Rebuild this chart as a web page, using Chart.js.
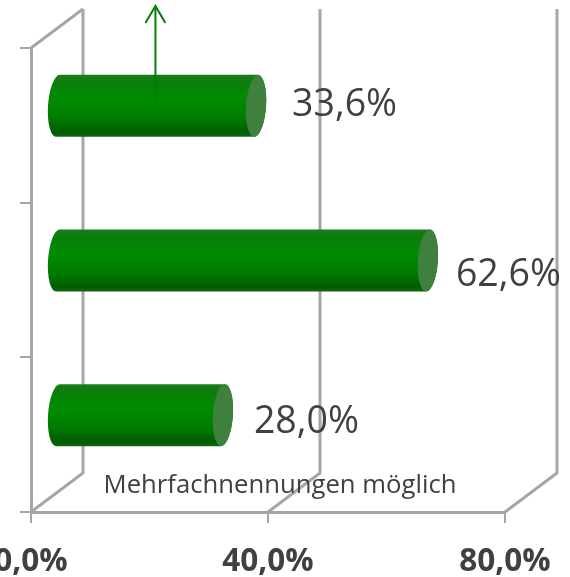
<!DOCTYPE html>
<html><head><meta charset="utf-8">
<script src="https://cdn.jsdelivr.net/npm/chart.js@4"></script>
<style>html,body{margin:0;padding:0;background:#fff;overflow:hidden}canvas{display:block}</style>
</head><body><canvas id="c" width="570" height="577"></canvas>
<script>
const categories = ['Kategorie 1', 'Kategorie 2', 'Kategorie 3'];
const values = [33.6, 62.6, 28.0];
const axisMin = 0, axisMax = 80, axisStep = 40;
const noteText = 'Mehrfachnennungen möglich';
const labelShiftX = [62, 54, 57];
const labelShiftY = [-20, -5, -12];
const fmt = v => v.toFixed(1).replace('.', ',') + '%';

const GRAY = '#a6a6a6', TEXT = '#404040', FONT = '"Open Sans"';
const DX = 26, DY = -19.5, SKEW = -0.06, RX = 10;

function line(ctx, pts) {
  ctx.beginPath();
  pts.forEach((p, i) => i ? ctx.lineTo(p[0], p[1]) : ctx.moveTo(p[0], p[1]));
  ctx.stroke();
}

const plugin3d = {
  id: 'plugin3d',
  beforeDatasetsDraw(chart) {
    const { ctx, chartArea: a, scales: { x } } = chart;
    ctx.save();
    ctx.strokeStyle = GRAY; ctx.lineWidth = 3; ctx.lineJoin = 'round';
    x.ticks.forEach(t => {
      const px = x.getPixelForValue(t.value);
      line(ctx, [[px, a.bottom], [px + DX * 2, a.bottom + DY * 2], [px + DX * 2, a.top + DY * 2]]);
    });
    line(ctx, [[a.left, a.top], [a.left + DX * 2, a.top + DY * 2]]);
    ctx.restore();

    const meta = chart.getDatasetMeta(0);
    meta.data.forEach(el => {
      const { x: ex, y: ey, base, height } = el.getProps(['x', 'y', 'base', 'height'], true);
      const cy = ey + DY, h = height / 2;
      const x0 = base + DX, x1 = ex + DX;
      ctx.save();
      ctx.translate(0, cy);
      ctx.transform(1, 0, SKEW, 1, 0, 0);
      const g = ctx.createLinearGradient(0, -h, 0, h);
      g.addColorStop(0, '#1c7a1c');
      g.addColorStop(0.12, '#0a7d0a');
      g.addColorStop(0.38, '#008c00');
      g.addColorStop(0.7, '#007c00');
      g.addColorStop(0.92, '#005c00');
      g.addColorStop(1, '#0f660f');
      ctx.beginPath();
      ctx.ellipse(x0, 0, RX, h, 0, Math.PI / 2, Math.PI * 1.5);
      ctx.lineTo(x1, -h);
      ctx.ellipse(x1, 0, RX, h, 0, -Math.PI / 2, Math.PI / 2);
      ctx.closePath();
      ctx.fillStyle = g;
      ctx.fill();
      ctx.beginPath();
      ctx.ellipse(x1, 0, RX, h, 0, 0, Math.PI * 2);
      ctx.fillStyle = '#3f803f';
      ctx.fill();
      ctx.restore();
    });
    return false;
  },
  afterDraw(chart) {
    const { ctx, chartArea: a } = chart;
    const meta = chart.getDatasetMeta(0);
    ctx.save();
    ctx.fillStyle = TEXT;
    ctx.textBaseline = 'middle';
    ctx.textAlign = 'left';
    ctx.font = '37.5px ' + FONT;
    meta.data.forEach((el, i) => {
      const { x: ex, y: ey } = el.getProps(['x', 'y'], true);
      ctx.fillText(fmt(values[i]), ex + labelShiftX[i], ey + labelShiftY[i]);
    });
    ctx.font = '25.7px ' + FONT;
    ctx.textBaseline = 'alphabetic';
    ctx.textAlign = 'center';
    ctx.fillText(noteText, (a.left + a.right) / 2 + 12, a.bottom - 19);

    const ax = chart.scales.x.getPixelForValue(21), top = a.top - 42;
    ctx.strokeStyle = '#008000'; ctx.lineWidth = 2; ctx.lineJoin = 'miter';
    line(ctx, [[ax, top + 94], [ax, top]]);
    line(ctx, [[ax - 10, top + 17], [ax, top], [ax + 10, top + 17]]);
    ctx.restore();
  }
};

new Chart(document.getElementById('c'), {
  type: 'bar',
  data: { labels: categories, datasets: [{ data: values, backgroundColor: '#008000', barThickness: 62 }] },
  plugins: [plugin3d],
  options: {
    indexAxis: 'y',
    responsive: false,
    animation: false,
    layout: { padding: { left: 20, right: 65, top: 48, bottom: 0 } },
    plugins: { legend: { display: false }, tooltip: { enabled: false }, title: { display: false } },
    scales: {
      x: {
        min: axisMin, max: axisMax,
        grid: { drawOnChartArea: false, drawTicks: true, tickLength: 11, color: GRAY, lineWidth: 2 },
        border: { color: GRAY, width: 3 },
        ticks: {
          stepSize: axisStep, maxRotation: 0, autoSkip: false, padding: 20,
          color: TEXT, font: { family: FONT, size: 31.5, weight: 'bold' },
          callback: v => fmt(v)
        },
        afterFit(s) { s.paddingLeft = 0; s.paddingRight = 0; s.height = 65; }
      },
      y: {
        grid: { drawOnChartArea: false, drawTicks: true, tickLength: 11, color: GRAY, lineWidth: 2, offset: true },
        border: { color: GRAY, width: 3 },
        ticks: { display: false },
        afterFit(s) { s.width = 11; s.paddingTop = 0; s.paddingBottom = 0; }
      }
    }
  }
});
</script></body></html>
